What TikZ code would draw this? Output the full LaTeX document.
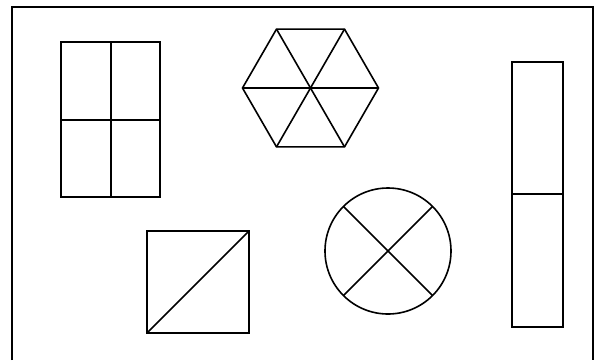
\documentclass[tikz,border=0pt]{standalone}
\begin{document}
\begin{tikzpicture}[x=1pt,y=-1pt,line width=1.6pt,
frame/.style={line width=1.8pt},
figure/.style={draw=black,line join=miter}]
\useasboundingbox (0,0) rectangle (598,360);
% frame, open at the bottom
\draw[frame] (12,360)--(12,7)--(593,7)--(593,360);
% window
\draw[figure] (61,42) rectangle (160,197);
\draw[figure] (111,42)--(111,197) (61,120)--(160,120);
% hexagon
\coordinate (hex) at (310.5,88);
\draw[figure] (hex)+(0:68) -- +(60:68) -- +(120:68) -- +(180:68) -- +(240:68) -- +(300:68) -- cycle;
\foreach \a in {0,60,120}
  \draw[figure] (hex)+(\a:68) -- +(\a+180:68);
% square
\draw[figure] (147,231) rectangle (249,333);
\draw[figure] (147,333)--(249,231);
% circle
\coordinate (ring) at (388,251);
\draw[figure] (ring) circle (63);
\foreach \a in {45,135}
  \draw[figure] (ring)+(\a:63) -- +(\a+180:63);
% tall bar
\draw[figure] (512,62) rectangle (563,327);
\draw[figure] (512,194)--(563,194);
\end{tikzpicture}
\end{document}
